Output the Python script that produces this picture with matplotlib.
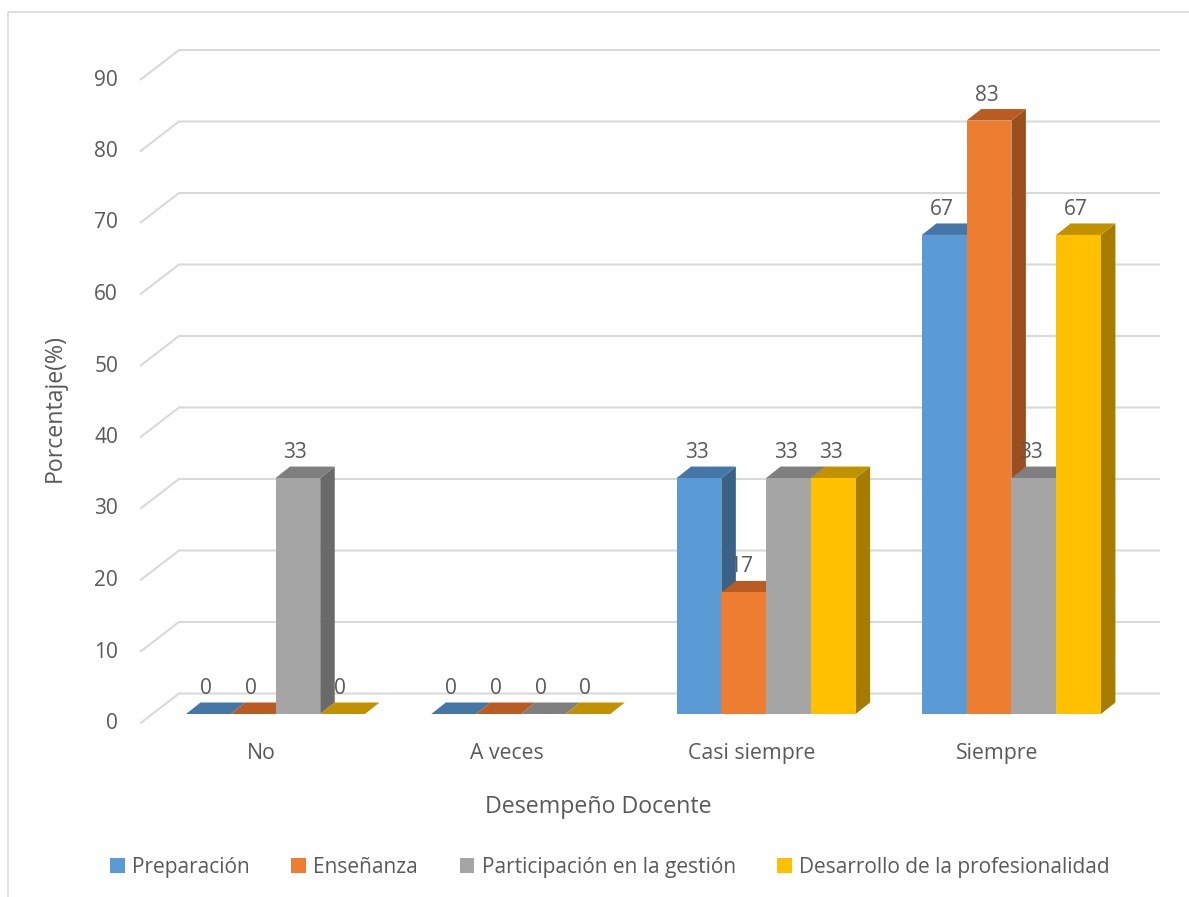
import matplotlib
matplotlib.use("Agg")
import matplotlib.pyplot as plt
from matplotlib.patches import Polygon, Rectangle, Patch

plt.rcParams['font.family'] = ['Open Sans', 'DejaVu Sans']

# data
categories = ["No", "A veces", "Casi siempre", "Siempre"]
series = ["Preparación", "Enseñanza", "Participación en la gestión",
          "Desarrollo de la profesionalidad"]
preparacion = [0, 0, 33, 67]
ensenanza = [0, 0, 17, 83]
participacion = [33, 0, 33, 33]
desarrollo = [0, 0, 33, 67]
yticks = [0, 10, 20, 30, 40, 50, 60, 70, 80, 90]

values = [preparacion, ensenanza, participacion, desarrollo]
front = ["#5B9BD5", "#ED7D31", "#A5A5A5", "#FFC000"]
top = ["#4676A6", "#B85C22", "#7F7F7F", "#C29100"]
side = ["#3A6186", "#9B4F1E", "#6A6A6A", "#A67C00"]
txt = "#595959"

# pixel scale -> data units
W, H = 1189, 897
sx = 1 / 245.3   # category units per px
sy = 1 / 7.15    # value units per px
x0px, y0px = 275.5, 714

fig = plt.figure(figsize=(W / 100, H / 100), dpi=100)
ax = fig.add_axes([0, 0, 1, 1])
ax.set_xlim(-x0px * sx, (W - x0px) * sx)
ax.set_ylim((y0px - H) * sy, y0px * sy)
ax.axis('off')

def px(x):
    return (x - x0px) * sx

bw = 44.75 * sx
ddx, ddy = 14.5 * sx, 11.5 * sy          # bar depth
wdx, wdy = 25 * sx, 20.5 * sy            # back wall offset
sdx, sdy = 39 * sx, 30 * sy              # slanted grid segment
wall_l, wall_r = px(179), px(1160)

# chart border
ax.add_patch(Rectangle((px(8), (y0px - H - 20) * sy), (W + 30) * sx, (H - 12 + 20) * sy,
                       fill=False, ec="#d9d9d9", lw=1.2, zorder=0))

# gridlines
for t in yticks:
    yb = t + wdy
    ax.plot([wall_l - sdx, wall_l, wall_r], [yb - sdy, yb, yb],
            color="#d9d9d9", lw=1.5, zorder=1, solid_capstyle='butt')
    ax.text(px(118), yb - sdy, str(t), ha='right', va='center',
            fontsize=15, color=txt)

# bars
for c in range(len(categories)):
    gl = c - 2 * bw
    for s in range(len(series)):
        v = values[s][c]
        l = gl + s * bw
        r = l + bw
        if v > 0:
            ax.add_patch(Polygon([(r, 0), (r + ddx, ddy), (r + ddx, v + ddy), (r, v)],
                                 closed=True, fc=side[s], ec='none', zorder=2))
        ax.add_patch(Polygon([(l, v), (r, v), (r + ddx, v + ddy), (l + ddx, v + ddy)],
                             closed=True, fc=top[s], ec='none', zorder=2))
        if v > 0:
            ax.add_patch(Rectangle((l, 0), bw, v, fc=front[s], ec='none', zorder=2))
        ax.text((l + r) / 2 - 2.5 * sx, v + ddy + 14 * sy, str(v), ha='center',
                va='center', fontsize=15, color=txt, zorder=3)
    ax.text(c - 14 * sx, (y0px - 753) * sy, categories[c], ha='center', va='center',
            fontsize=15.3, color=txt)

# axis titles
ax.text(px(55), (y0px - 408) * sy, "Porcentaje(%)", rotation=90, ha='center',
        va='center', fontsize=16.7, color=txt)
ax.text(px(598), (y0px - 807) * sy, "Desempeño Docente", ha='center', va='center',
        fontsize=16.7, color=txt)

# legend
handles = [Patch(facecolor=front[i], edgecolor='none', label=series[i]) for i in range(4)]
fig.legend(handles=handles, loc='center', bbox_to_anchor=(610 / W, 1 - 867 / H),
           ncol=4, frameon=False, fontsize=15, labelcolor=txt,
           handlelength=0.7, handleheight=0.7, handletextpad=0.35, columnspacing=2.0)

fig.savefig("out.png", dpi=100)
